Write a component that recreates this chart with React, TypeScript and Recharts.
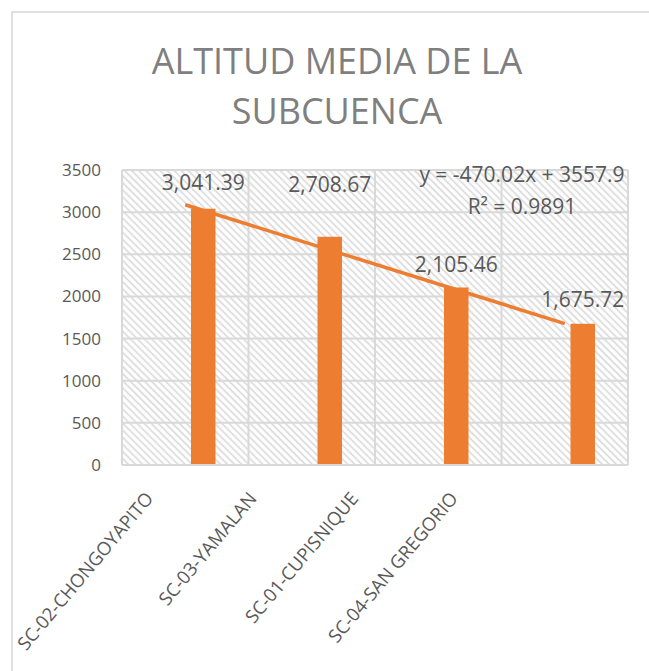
import React from 'react';
import { ComposedChart, Bar, Line, XAxis, YAxis, CartesianGrid, LabelList } from 'recharts';

const categories = ['SC-02-CHONGOYAPITO', 'SC-03-YAMALAN', 'SC-01-CUPISNIQUE', 'SC-04-SAN GREGORIO'];
const altitudes = [3041.39, 2708.67, 2105.46, 1675.72];
const trendValues = [3087.88, 2617.86, 2147.84, 1677.82];
const yTicks = [0, 500, 1000, 1500, 2000, 2500, 3000, 3500];
const dataLabels = ['3,041.39', '2,708.67', '2,105.46', '1,675.72'];
const equationLines = ['y = -470.02x + 3557.9', 'R² = 0.9891'];
const titleLines = ['ALTITUD MEDIA DE LA', 'SUBCUENCA'];

const data = categories.map((name, i) => ({ name, altitud: altitudes[i], trend: trendValues[i] }));

// layout / style constants
const W = 649;
const H = 671;
const PLOT_LEFT = 122;
const PLOT_RIGHT = 628;
const PLOT_TOP = 170;
const PLOT_BOTTOM = 465;
const PLOT_W = PLOT_RIGHT - PLOT_LEFT;
const FONT = '"Open Sans", "Liberation Sans", sans-serif';
const ORANGE = '#ED7D31';
const GRID = '#d9d9d9';
const TEXT = '#595959';
const labelLift = [26, 52, 23, 24];
const tickShift = [-31, -54, -79, -106];

const XTick = (props: any) => {
  const { x, y, payload } = props;
  const i = payload?.index ?? props.index ?? 0;
  const ax = x + tickShift[i];
  const ay = y + 34;
  return (
    <text
      x={ax}
      y={ay}
      textAnchor="end"
      transform={`rotate(-50 ${ax} ${ay})`}
      fill={TEXT}
      fontSize={18.5}
      fontFamily={FONT}
    >
      {payload.value}
    </text>
  );
};

const BarLabel = (props: any) => {
  const { x, y, width, index } = props;
  const cx = Number(x) + Number(width) / 2;
  const cy = Number(y) - labelLift[index];
  return (
    <text x={cx} y={cy} dy="0.35em" textAnchor="middle" fill={TEXT} fontSize={21} fontFamily={FONT}>
      {dataLabels[index]}
    </text>
  );
};

export default function App() {
  const vPoints = [0, 1, 2, 3, 4].map((i) => PLOT_LEFT + (PLOT_W * i) / 4);
  return (
    <div style={{ position: 'absolute', left: 0, top: 0, width: W, height: H, overflow: 'hidden', background: '#fff' }}>
      <svg width={0} height={0} style={{ position: 'absolute' }}>
        <defs>
          <pattern id="hatch" patternUnits="userSpaceOnUse" width={5} height={5} patternTransform="rotate(-45)">
            <rect width={5} height={5} fill="#ffffff" />
            <line x1={2.5} y1={0} x2={2.5} y2={5} stroke="#d6d6d6" strokeWidth={1.5} />
          </pattern>
        </defs>
      </svg>
      <div
        style={{
          position: 'absolute',
          left: 11,
          top: 11,
          width: 800,
          height: 800,
          borderLeft: '2px solid #e0e0e0',
          borderTop: '2px solid #e0e0e0',
        }}
      />
      <div style={{ position: 'absolute', left: 0, top: 0 }}>
        <ComposedChart
          width={W}
          height={H}
          data={data}
          margin={{ top: PLOT_TOP, right: W - PLOT_RIGHT, bottom: 0, left: 0 }}
          barSize={24.5}
          barGap={11.5}
        >
          <CartesianGrid
            stroke={GRID}
            strokeWidth={2}
            fill="url(#hatch)"
            fillOpacity={1}
            verticalPoints={vPoints}
          />
          <XAxis
            dataKey="name"
            height={H - PLOT_BOTTOM}
            interval={0}
            tickLine={false}
            tickSize={0}
            tickMargin={0}
            axisLine={{ stroke: GRID, strokeWidth: 2 }}
            tick={<XTick />}
          />
          <YAxis
            width={PLOT_LEFT}
            domain={[0, 3500]}
            ticks={yTicks}
            axisLine={false}
            tickLine={false}
            tickSize={0}
            tickMargin={21}
            tick={{ fill: TEXT, fontSize: 17, fontFamily: FONT }}
          />
          <Bar dataKey="spacer" fill="none" isAnimationActive={false} />
          <Bar dataKey="altitud" fill={ORANGE} isAnimationActive={false}>
            <LabelList dataKey="altitud" content={<BarLabel />} />
          </Bar>
          <Line
            dataKey="trend"
            type="linear"
            stroke={ORANGE}
            strokeWidth={3.5}
            dot={false}
            activeDot={false}
            isAnimationActive={false}
          />
        </ComposedChart>
      </div>
      <svg width={W} height={H} style={{ position: 'absolute', left: 0, top: 0, pointerEvents: 'none' }}>
        <text x={337} y={61} dy="0.35em" textAnchor="middle" fill="#7f7f7f" fontSize={36} fontFamily={FONT}>
          {titleLines[0]}
        </text>
        <text x={337} y={111} dy="0.35em" textAnchor="middle" fill="#7f7f7f" fontSize={36} fontFamily={FONT}>
          {titleLines[1]}
        </text>
        <text x={PLOT_RIGHT - 106} y={175} dy="0.35em" textAnchor="middle" fill={TEXT} fontSize={21} fontFamily={FONT}>
          {equationLines[0]}
        </text>
        <text x={PLOT_RIGHT - 106} y={207} dy="0.35em" textAnchor="middle" fill={TEXT} fontSize={21} fontFamily={FONT}>
          {equationLines[1]}
        </text>
      </svg>
    </div>
  );
}
